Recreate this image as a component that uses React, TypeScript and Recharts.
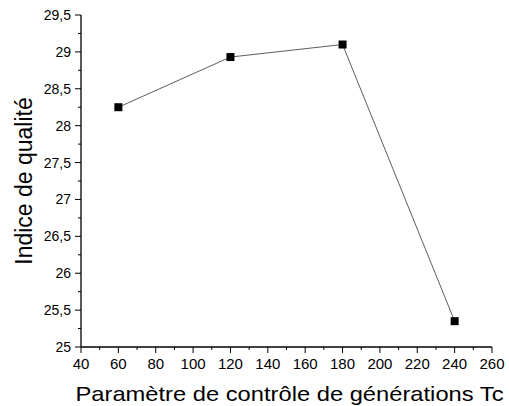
import React from "react";
import { LineChart, Line, XAxis, YAxis, Label } from "recharts";

const tcValues = [60, 120, 180, 240];
const qualityIndex = [28.25, 28.93, 29.1, 25.35];
const xTicks = [40, 50, 60, 70, 80, 90, 100, 110, 120, 130, 140, 150, 160, 170, 180, 190, 200, 210, 220, 230, 240, 250, 260];
const yTicks = [25, 25.25, 25.5, 25.75, 26, 26.25, 26.5, 26.75, 27, 27.25, 27.5, 27.75, 28, 28.25, 28.5, 28.75, 29, 29.25, 29.5];
const xTitle = "Paramètre de contrôle de générations Tc";
const yTitle = "Indice de qualité";

const data = tcValues.map((tc, i) => ({ tc, q: qualityIndex[i] }));

const FONT = "'Liberation Sans', Arial, sans-serif";

const XTick = (props: any) => {
  const { x, y, payload } = props;
  const v = payload.value;
  const major = v % 20 === 0;
  return (
    <g>
      <line x1={x} x2={x} y1={y} y2={y + (major ? 6 : 3)} stroke="#000" strokeWidth={1} />
      {major && (
        <text x={x} y={y + 22} textAnchor="middle" fontSize={15} fontFamily={FONT} fill="#000">
          {v}
        </text>
      )}
    </g>
  );
};

const YTick = (props: any) => {
  const { x, y, payload } = props;
  const v = payload.value;
  const major = Math.abs(v * 2 - Math.round(v * 2)) < 1e-6;
  return (
    <g>
      <line x1={x} x2={x - (major ? 6 : 3)} y1={y} y2={y} stroke="#000" strokeWidth={1} />
      {major && (
        <text x={x - 10} y={y + 5} textAnchor="end" fontSize={14} fontFamily={FONT} fill="#000">
          {String(v).replace(".", ",")}
        </text>
      )}
    </g>
  );
};

const SquareDot = (props: any) => {
  const { cx, cy } = props;
  if (cx == null || cy == null) return null;
  return <rect x={cx - 4} y={cy - 4} width={8} height={8} fill="#000" />;
};

export default function App() {
  return (
    <div style={{ position: "absolute", left: 0, top: 0 }}>
      <LineChart width={509} height={406} data={data} margin={{ top: 15, right: 17, left: 0, bottom: 0 }}>
        <XAxis
          dataKey="tc"
          type="number"
          domain={[40, 260]}
          ticks={xTicks}
          interval={0}
          tickLine={false}
          tickSize={0}
          tickMargin={0}
          height={59}
          axisLine={{ stroke: "#000", strokeWidth: 1.3 }}
          tick={<XTick />}
        >
          <Label
            content={(p: any) => {
              const vb = p.viewBox || { x: 81, y: 347, width: 411, height: 59 };
              return (
                <text
                  x={vb.x + vb.width / 2 + 3}
                  y={vb.y + 54}
                  textAnchor="middle"
                  fontSize={21}
                  fontFamily={FONT}
                  fill="#000"
                  textLength={428}
                  lengthAdjust="spacingAndGlyphs"
                >
                  {xTitle}
                </text>
              );
            }}
          />
        </XAxis>
        <YAxis
          type="number"
          domain={[25, 29.5]}
          ticks={yTicks}
          interval={0}
          width={81}
          tickLine={false}
          tickSize={0}
          tickMargin={0}
          axisLine={{ stroke: "#000", strokeWidth: 1.3 }}
          tick={<YTick />}
        >
          <Label
            content={(p: any) => {
              const vb = p.viewBox || { x: 0, y: 15, width: 81, height: 332 };
              const cx = vb.x + 32;
              const cy = vb.y + vb.height / 2;
              return (
                <text
                  x={cx}
                  y={cy}
                  transform={`rotate(-90, ${cx}, ${cy})`}
                  textAnchor="middle"
                  fontSize={23}
                  fontFamily={FONT}
                  fill="#000"
                >
                  {yTitle}
                </text>
              );
            }}
          />
        </YAxis>
        <Line
          dataKey="q"
          stroke="#333"
          strokeWidth={0.8}
          dot={<SquareDot />}
          activeDot={false}
          isAnimationActive={false}
        />
      </LineChart>
    </div>
  );
}
